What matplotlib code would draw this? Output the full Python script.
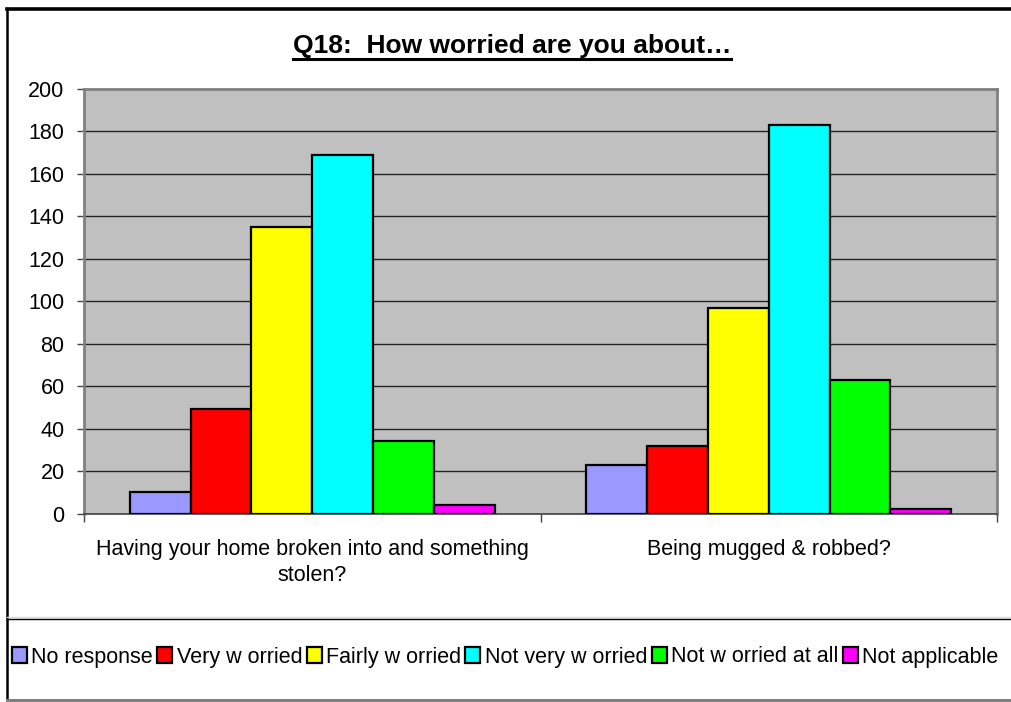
import matplotlib
matplotlib.use("Agg")
import matplotlib.pyplot as plt
import numpy as np
from matplotlib.lines import Line2D

categories = ["Having your home broken into and something\nstolen?", "Being mugged & robbed?"]
series_names = ["No response", "Very w orried", "Fairly w orried", "Not very w orried",
                "Not w orried at all", "Not applicable"]
no_response = [10, 23]
very_worried = [49, 32]
fairly_worried = [135, 97]
not_very_worried = [169, 183]
not_worried_at_all = [34, 63]
not_applicable = [4, 2]
colors = ["#9999FF", "#FF0000", "#FFFF00", "#00FFFF", "#00FF00", "#FF00FF"]
title = "Q18:  How worried are you about\u2026"
yticks = [0, 20, 40, 60, 80, 100, 120, 140, 160, 180, 200]

series = [no_response, very_worried, fairly_worried, not_very_worried, not_worried_at_all, not_applicable]

plt.rcParams['font.family'] = ['Liberation Sans', 'DejaVu Sans']
W, H = 1012, 702
fig = plt.figure(figsize=(W / 100, H / 100), dpi=100)
fig.patch.set_facecolor("white")

def fx(px):
    return px / W

def fy(py):
    return 1 - py / H

FS = 15.5

ax = fig.add_axes([fx(84), fy(513.5), fx(997) - fx(84), fy(89) - fy(513.5)])
ax.set_facecolor("#C0C0C0")
ax.set_axisbelow(True)

n = len(series)
bw = 0.8 / n
x = np.arange(len(categories))
for i, (vals, c, name) in enumerate(zip(series, colors, series_names)):
    ax.bar(x - 0.4 + bw * (i + 0.5), vals, width=bw, color=c, edgecolor="black",
           linewidth=1.6, label=name, zorder=3)

ax.set_xlim(-0.5, len(categories) - 0.5)
ax.set_ylim(0, 200)
ax.set_yticks(yticks)
ax.yaxis.grid(True, color="#222222", linewidth=1.0, zorder=0)
ax.tick_params(axis="y", labelsize=FS, length=5, width=1, color="#444444", pad=9)
ax.set_xticks(x)
ax.set_xticklabels(categories, fontsize=FS, linespacing=1.35)
ax.tick_params(axis="x", which="major", length=0, pad=18)
ax.set_xticks(np.arange(len(categories) + 1) - 0.5, minor=True)
ax.tick_params(axis="x", which="minor", length=6, width=1, color="#444444")
for s in ax.spines.values():
    s.set_color("#808080")
    s.set_linewidth(2)
ax.spines["bottom"].set_color("#444444")
ax.spines["bottom"].set_linewidth(1.2)

# outer frame
fig.add_artist(Line2D([fx(7), fx(7)], [fy(9), fy(700)], color="black", lw=1.8))
fig.add_artist(Line2D([fx(7), 1.0], [fy(9), fy(9)], color="black", lw=2.6))
fig.add_artist(Line2D([fx(7), 1.0], [fy(700), fy(700)], color="#808080", lw=2.2))
# legend box top line
fig.add_artist(Line2D([fx(7), 1.0], [fy(616.5), fy(616.5)], color="#DDDDDD", lw=1.0))
fig.add_artist(Line2D([fx(7), 1.0], [fy(618.5), fy(618.5)], color="black", lw=1.0))

# title with underline
t = fig.text(fx(512), fy(46), title, ha="center", va="center", fontsize=19,
             fontweight="bold")
fig.canvas.draw()
bb = t.get_window_extent()
fig.add_artist(Line2D([bb.x0 / W, bb.x1 / W], [fy(58.5), fy(58.5)], color="black", lw=2.2))

leg = fig.legend(loc="center left", bbox_to_anchor=(fx(12), fy(657)), ncol=6, frameon=False,
                 fontsize=FS, handlelength=0.7, handleheight=0.7, handletextpad=0.2,
                 columnspacing=0.2, borderaxespad=0, borderpad=0)

fig.savefig("out.png", dpi=100, facecolor="white")
